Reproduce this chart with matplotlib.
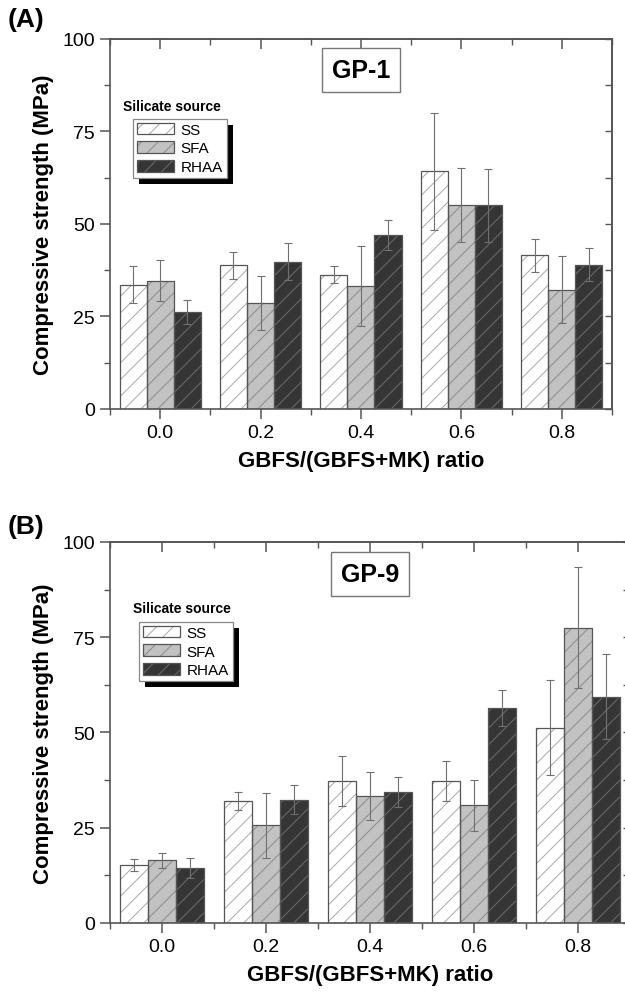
import numpy as np
import matplotlib
matplotlib.use("Agg")
import matplotlib.pyplot as plt
from matplotlib.patches import Rectangle

plt.rcParams['font.family'] = ['Liberation Sans', 'DejaVu Sans']
plt.rcParams['hatch.linewidth'] = 0.7

# ---- data ----
ratios = ['0.0', '0.2', '0.4', '0.6', '0.8']
sources = ['SS', 'SFA', 'RHAA']

# (A) GP-1
gp1_ss = [33.5, 38.8, 36.3, 64.2, 41.5]
gp1_ss_err = [5.0, 3.7, 2.2, 15.8, 4.5]
gp1_sfa = [34.7, 28.7, 33.2, 55.2, 32.2]
gp1_sfa_err = [5.6, 7.3, 10.7, 10.0, 9.0]
gp1_rhaa = [26.2, 39.8, 47.0, 55.0, 39.0]
gp1_rhaa_err = [3.2, 5.0, 4.0, 9.8, 4.5]

# (B) GP-9
gp9_ss = [15.2, 32.0, 37.2, 37.3, 51.2]
gp9_ss_err = [1.6, 2.3, 6.6, 5.2, 12.5]
gp9_sfa = [16.4, 25.6, 33.3, 30.9, 77.5]
gp9_sfa_err = [2.0, 8.5, 6.4, 6.7, 15.9]
gp9_rhaa = [14.5, 32.3, 34.4, 56.3, 59.4]
gp9_rhaa_err = [2.6, 3.8, 4.0, 4.7, 11.2]

fills = ['white', '#c2c2c2', '#353535']
hatch_cols = ['#a8a8a8', '#8a8a8a', '#6e6e6e']
edge = '#555555'
width = 0.27


def draw_panel(ax, series, errs, name, leg_anchor, title_xy):
    x = np.arange(len(ratios))
    for i, (vals, err) in enumerate(zip(series, errs)):
        pos = x + (i - 1) * width
        # hatch layer then outline layer
        ax.bar(pos, vals, width, color=fills[i], hatch='//', edgecolor=hatch_cols[i],
               linewidth=0, zorder=2)
        ax.bar(pos, vals, width, fill=False, edgecolor=edge, linewidth=0.9, zorder=3,
               label=sources[i])
        ax.errorbar(pos, vals, yerr=err, fmt='none', ecolor='#707070', elinewidth=0.8,
                    capsize=3, capthick=0.8, zorder=4)

    ax.set_xlim(-0.5, 4.5)
    ax.set_ylim(0, 100)
    ax.set_xticks(x)
    ax.set_xticklabels(ratios)
    ax.set_xticks(np.arange(-0.5, 4.6, 1.0), minor=True)
    ax.set_yticks([0, 25, 50, 75, 100])
    ax.set_yticks(np.arange(12.5, 100, 25), minor=True)
    ax.tick_params(axis='both', which='major', labelsize=14, direction='out',
                   length=7, width=1.1, color='#555555', pad=4)
    ax.tick_params(axis='both', which='minor', direction='out', length=4,
                   width=1.0, color='#555555')
    for s in ax.spines.values():
        s.set_color('#555555')
        s.set_linewidth(1.2)

    # inward ticks on the top and right sides
    top = ax.secondary_xaxis('top')
    top.set_xticks(x)
    top.set_xticks(np.arange(-0.5, 4.6, 1.0), minor=True)
    top.tick_params(which='major', direction='in', length=7, width=1.1,
                    color='#555555', labeltop=False)
    top.tick_params(which='minor', direction='in', length=4, width=1.0,
                    color='#555555')
    top.spines['top'].set_color('#555555')
    top.spines['top'].set_linewidth(1.2)
    right = ax.secondary_yaxis('right')
    right.set_yticks(np.arange(0, 101, 12.5))
    right.tick_params(which='major', direction='in', length=5, width=1.0,
                      color='#555555', labelright=False)
    right.tick_params(which='minor', length=0)
    right.spines['right'].set_color('#555555')
    right.spines['right'].set_linewidth(1.2)

    ax.set_xlabel('GBFS/(GBFS+MK) ratio', fontsize=16, fontweight='bold', labelpad=6)
    ax.set_ylabel('Compressive strength (MPa)', fontsize=16, fontweight='bold', labelpad=6)

    ax.text(2, 0.916, name, transform=ax.get_xaxis_transform(), ha='center', va='center',
            fontsize=18, fontweight='bold',
            bbox=dict(boxstyle='square,pad=0.4', facecolor='white', edgecolor='#777777',
                      linewidth=1.0), zorder=6)

    ax.text(title_xy[0], title_xy[1], 'Silicate source', transform=ax.transAxes,
            fontsize=10, fontweight='bold', ha='left', va='center', zorder=6)

    handles, labels = ax.get_legend_handles_labels()
    proxies = []
    for i in range(3):
        proxies.append(Rectangle((0, 0), 1, 1, facecolor=fills[i], hatch='//',
                                 edgecolor=hatch_cols[i], linewidth=0))
    leg = ax.legend([(p, h) for p, h in zip(proxies, handles)], labels,
                    loc='upper left', bbox_to_anchor=leg_anchor, borderaxespad=0,
                    fontsize=11, frameon=True, fancybox=False, framealpha=1,
                    edgecolor='#888888', borderpad=0.25, handlelength=2.4,
                    handleheight=0.8, handletextpad=0.45, labelspacing=0.3)
    leg.get_frame().set_linewidth(0.9)
    leg.set_zorder(6)
    return leg


fig = plt.figure(figsize=(6.25, 9.95), dpi=100)
fig.patch.set_facecolor('white')
ax_a = fig.add_axes([0.176, 0.588, 0.803, 0.372])
ax_b = fig.add_axes([0.176, 0.0714, 0.832, 0.383])

leg_a = draw_panel(ax_a, [gp1_ss, gp1_sfa, gp1_rhaa], [gp1_ss_err, gp1_sfa_err, gp1_rhaa_err],
                   'GP-1', (0.046, 0.784), (0.026, 0.819))
leg_b = draw_panel(ax_b, [gp9_ss, gp9_sfa, gp9_rhaa], [gp9_ss_err, gp9_sfa_err, gp9_rhaa_err],
                   'GP-9', (0.056, 0.79), (0.044, 0.827))

# panel tags at the figure's left edge
fig.text(0.012, 1 - 20 / 995, '(A)', fontsize=19, fontweight='bold', ha='left', va='center')
fig.text(0.012, 1 - 527 / 995, '(B)', fontsize=19, fontweight='bold', ha='left', va='center')

# solid black drop shadow behind each legend box
fig.canvas.draw()
inv = fig.transFigure.inverted()
for ax, leg in ((ax_a, leg_a), (ax_b, leg_b)):
    bb = leg.get_frame().get_window_extent()
    (x0, y0), (x1, y1) = inv.transform([(bb.x0 + 6, bb.y0 - 6), (bb.x1 + 6, bb.y1 - 6)])
    shadow = Rectangle((x0, y0), x1 - x0, y1 - y0, transform=fig.transFigure,
                       facecolor='black', edgecolor='none', zorder=5.5, clip_on=False)
    ax.add_patch(shadow)

fig.savefig('out.png', dpi=100, facecolor='white')
